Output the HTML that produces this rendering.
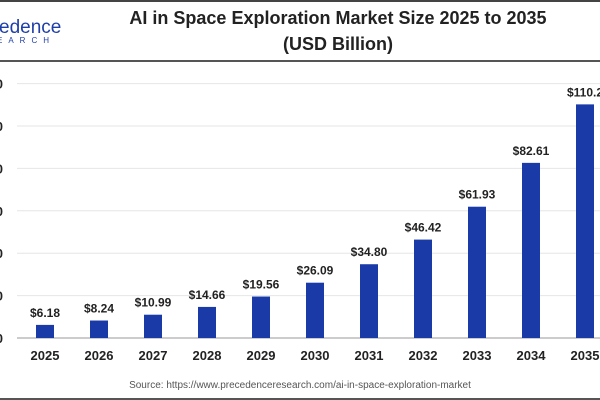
<!DOCTYPE html>
<html><head><meta charset="utf-8"><style>
body{margin:0;background:#fff;}
#c{position:relative;width:600px;height:400px;overflow:hidden;font-family:"Liberation Sans",sans-serif;background:#fff;}
</style></head><body>
<div id="c">
<svg id="s" width="600" height="400">
<line x1="0" y1="1" x2="600" y2="1" stroke="#444" stroke-width="2"/>
<line x1="0" y1="61" x2="600" y2="61" stroke="#555" stroke-width="2"/>
<line x1="0" y1="399" x2="600" y2="399" stroke="#555" stroke-width="2"/>
<text x="-1" y="33" font-size="19" fill="#1f3fa8" font-family="Liberation Sans,sans-serif">edence</text>
<text x="-3" y="43" font-size="8" fill="#1f3fa8" letter-spacing="6">EARCH</text>
<text x="338" y="24" font-size="18" font-weight="bold" fill="#222" text-anchor="middle">AI in Space Exploration Market Size 2025 to 2035</text>
<text x="338" y="50" font-size="18" font-weight="bold" fill="#222" text-anchor="middle">(USD Billion)</text>
<g id="grid"></g><g id="bars"></g>
<text x="300" y="388" font-size="10" fill="#555" text-anchor="middle">Source: https://www.precedenceresearch.com/ai-in-space-exploration-market</text>
</svg>
</div>
<script>
const categories=["2025","2026","2027","2028","2029","2030","2031","2032","2033","2034","2035"];
const values=[6.18,8.24,10.99,14.66,19.56,26.09,34.80,46.42,61.93,82.61,110.2];
const valueLabels=["$6.18","$8.24","$10.99","$14.66","$19.56","$26.09","$34.80","$46.42","$61.93","$82.61","$110.2"];
const yTicks=[0,20,40,60,80,100,120];
const NS="http://www.w3.org/2000/svg";
const y=v=>338-v*2.12;
const x=i=>45+i*54;
function mk(t,a,p){const e=document.createElementNS(NS,t);for(const k in a)e.setAttribute(k,a[k]);p.appendChild(e);return e;}
const g=document.getElementById('grid'),b=document.getElementById('bars');
yTicks.forEach(v=>{
 const l=mk('line',{x1:17,x2:600,y1:y(v),y2:y(v),stroke:v===0?'#999':'#e6e6e6','stroke-width':1},g);
 
 
 const t=mk('text',{x:3,y:y(v)+5,'font-size':13,'font-weight':'bold',fill:'#222','text-anchor':'end'},g);
 t.textContent=v;
 
 
});
categories.forEach((c,i)=>{
 const r=mk('rect',{x:x(i)-9,y:y(values[i]),width:18,height:338-y(values[i]),fill:'#1a3aa8'},b);
 
 
 const vl=mk('text',{x:x(i),y:y(values[i])-8,'font-size':12,'font-weight':'bold',fill:'#222','text-anchor':'middle'},b);
 vl.textContent=valueLabels[i];
 
 
 const xl=mk('text',{x:x(i),y:360,'font-size':13,'font-weight':'bold',fill:'#222','text-anchor':'middle'},b);
 xl.textContent=c;
 
 
});
</script>
</body></html>
